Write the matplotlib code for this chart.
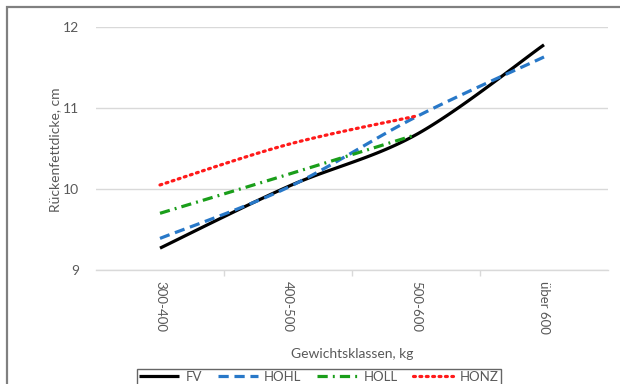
import numpy as np
import matplotlib
matplotlib.use('Agg')
import matplotlib.pyplot as plt
from matplotlib.patches import Rectangle

# Data
categories = ['300-400', '400-500', '500-600', 'über 600']
fv = [9.27, 10.03, 10.67, 11.78]
hohl = [9.39, 10.02, 10.89, 11.63]
holl = [9.70, 10.18, 10.67]
honz = [10.05, 10.55, 10.90]

plt.rcParams['font.family'] = ['Lato', 'DejaVu Sans']
txt = '#595959'


def smooth(y, n=40):
    # Excel-style smoothed line (Catmull-Rom Bezier through the points)
    x = np.arange(len(y), dtype=float)
    y = np.asarray(y, dtype=float)
    pts = np.column_stack([x, y])
    out = [pts[0]]
    for i in range(len(pts) - 1):
        p0 = pts[max(i - 1, 0)]
        p1 = pts[i]
        p2 = pts[i + 1]
        p3 = pts[min(i + 2, len(pts) - 1)]
        c1 = p1 + (p2 - p0) / 6
        c2 = p2 - (p3 - p1) / 6
        t = np.linspace(0, 1, n)[1:, None]
        seg = ((1 - t) ** 3) * p1 + 3 * ((1 - t) ** 2) * t * c1 + 3 * (1 - t) * t ** 2 * c2 + t ** 3 * p2
        out.extend(seg)
    out = np.array(out)
    return out[:, 0], out[:, 1]


fig = plt.figure(figsize=(6.2, 3.84), dpi=100)
ax = fig.add_axes([96 / 620, (384 - 270) / 384, 512 / 620, 243 / 384])

# outer chart border (cropped on the right and bottom)
fig.patches.append(Rectangle((7 / 620, -0.1), 1.2, (384 - 7) / 384 + 0.1,
                             transform=fig.transFigure, fill=False,
                             edgecolor='#808080', linewidth=1.6))

x, y = smooth(fv)
ax.plot(x, y, color='black', linewidth=2.3, solid_capstyle='butt', label='FV', zorder=3)
x, y = smooth(hohl)
ax.plot(x, y, color='#2878c8', linewidth=2.3, dashes=(3.2, 1.8), label='HOHL', zorder=3)
x, y = smooth(holl)
ax.plot(x, y, color='#1a9e1a', linewidth=2.3, dashes=(3.2, 1.6, 0.6, 1.6), label='HOLL', zorder=3)
x, y = smooth(honz)
ax.plot(x, y, color='#ff1a1a', linewidth=2.3, dashes=(0.6, 1.4), dash_capstyle='round',
        label='HONZ', zorder=3)

ax.set_xlim(-0.5, 3.5)
ax.set_ylim(9, 12)
ax.set_yticks([9, 10, 11, 12])
ax.grid(axis='y', color='#d9d9d9', linewidth=1)
ax.set_axisbelow(True)

for s in ['top', 'right', 'left']:
    ax.spines[s].set_visible(False)
ax.spines['bottom'].set_color('#d9d9d9')
ax.spines['bottom'].set_linewidth(1)

ax.set_xticks(range(len(categories)))
ax.set_xticklabels(categories, rotation=270, va='top', ha='center')
ax.set_xticks([0.5, 1.5, 2.5], minor=True)
ax.tick_params(axis='x', which='major', length=0, pad=8, labelsize=9.5, labelcolor=txt)
ax.tick_params(axis='x', which='minor', length=4, color='#d9d9d9', width=1)
ax.tick_params(axis='y', length=0, pad=12, labelsize=10, labelcolor=txt)

fig.text(55 / 620, 1 - 150 / 384, 'Rückenfettdicke, cm', rotation=90, ha='center', va='center',
         fontsize=10, color=txt)
fig.text(352 / 620, 1 - 354 / 384, 'Gewichtsklassen, kg', ha='center', va='center',
         fontsize=10, color=txt)

leg = fig.legend(loc='upper center', bbox_to_anchor=(319 / 620, 1 - 369 / 384), ncol=4,
                 frameon=True, fancybox=False, fontsize=9.5, handlelength=3.0,
                 columnspacing=1.2, handletextpad=0.5, borderpad=0.15, borderaxespad=0)
leg.get_frame().set_edgecolor('#404040')
leg.get_frame().set_linewidth(1)
for t in leg.get_texts():
    t.set_color(txt)

fig.savefig('out.png', dpi=100)
